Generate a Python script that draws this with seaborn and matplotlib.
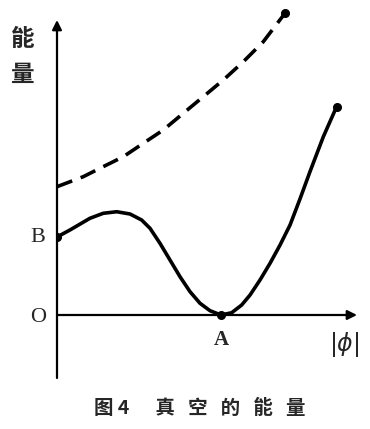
import matplotlib
matplotlib.use("Agg")
import matplotlib.pyplot as plt
import seaborn as sns

# Solid curve: energy vs |phi| (true vacuum at A, false vacuum at B)
phi_solid = [0.0, 0.079, 0.201, 0.282, 0.364, 0.445, 0.516, 0.567, 0.628, 0.689,
             0.750, 0.811, 0.872, 0.933, 1.0, 1.065, 1.126, 1.177, 1.238, 1.299,
             1.360, 1.421, 1.482, 1.543, 1.624, 1.705]
e_solid = [1.0, 1.090, 1.240, 1.304, 1.324, 1.295, 1.218, 1.112, 0.919, 0.705,
           0.491, 0.299, 0.150, 0.055, 0.0, 0.029, 0.128, 0.256, 0.449, 0.663,
           0.897, 1.154, 1.490, 1.840, 2.286, 2.671]
# Dashed curve
phi_dash = [0.0, 0.160, 0.262, 0.404, 0.526, 0.648, 0.770, 0.892, 1.014, 1.136,
            1.258, 1.390]
e_dash = [1.645, 1.773, 1.881, 2.029, 2.201, 2.372, 2.586, 2.799, 3.013, 3.247,
          3.504, 3.868]

sns.set_style("white")
plt.rcParams['font.family'] = ['Noto Sans CJK SC', 'DejaVu Sans']

W, H = 370, 429
fig = plt.figure(figsize=(W / 100, H / 100), dpi=100)
x0, x1, ytop, ybot = 57, 362, 6, 382
ax = fig.add_axes([x0 / W, 1 - ybot / H, (x1 - x0) / W, (ybot - ytop) / H])
sx, sy = 164.0, 78.0
ax.set_xlim(0, (x1 - x0) / sx)
ax.set_ylim((315 - ybot) / sy, (315 - ytop) / sy)
ax.axis("off")

ax.annotate("", xy=(0, (315 - 20) / sy), xytext=(0, (315 - 378) / sy),
            arrowprops=dict(arrowstyle="-|>", color="black", lw=1.6,
                            mutation_scale=14, shrinkA=0, shrinkB=0))
ax.annotate("", xy=((357 - 57) / sx, 0), xytext=(0, 0),
            arrowprops=dict(arrowstyle="-|>", color="black", lw=1.6,
                            mutation_scale=14, shrinkA=0, shrinkB=0))

sns.lineplot(x=phi_solid, y=e_solid, ax=ax, sort=False, estimator=None,
             color="black", lw=2.6)
sns.lineplot(x=phi_dash, y=e_dash, ax=ax, sort=False, estimator=None,
             color="black", lw=2.6)
ax.lines[-1].set_dashes([4.5, 2.5])
for ln in ax.lines:
    ln.set_solid_joinstyle("round")
    ln.set_dash_joinstyle("round")

ax.plot([phi_solid[0], 1.0, phi_solid[-1], phi_dash[-1]],
        [e_solid[0], 0.0, e_solid[-1], e_dash[-1]],
        "o", color="black", ms=5.5, ls="none")

serif = ['Liberation Serif', 'DejaVu Serif']
ax.text(-0.115, 1.0, "B", fontsize=16, family=serif, ha="center", va="center")
ax.text(-0.115, -0.03, "O", fontsize=16, family=serif, ha="center", va="center")
ax.text(1.0, -0.32, "A", fontsize=15, family=serif, ha="center", va="center",
        fontweight="bold")
ax.text((344 - 57) / sx, -0.38, r"$|\phi|$", fontsize=17, ha="center",
        va="center")

fig.text(23 / W, 1 - 39 / H, "能", fontsize=17, fontweight="bold",
         ha="center", va="center")
fig.text(23 / W, 1 - 75 / H, "量", fontsize=17, fontweight="bold",
         ha="center", va="center")
fig.text(200 / W, 1 - 408 / H, "图 4      真   空   的   能   量", fontsize=14,
         fontweight="bold", ha="center", va="center")

fig.savefig("out.png", dpi=100)
